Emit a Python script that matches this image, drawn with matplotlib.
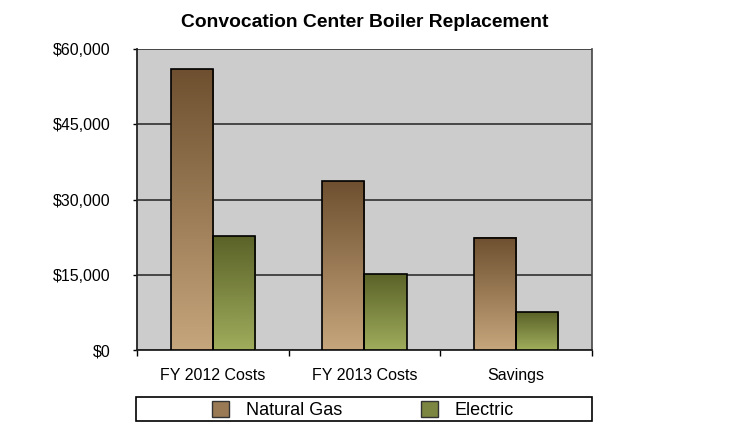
import numpy as np
import matplotlib
matplotlib.use('Agg')
from matplotlib import pyplot as plt
from matplotlib.colors import LinearSegmentedColormap
from matplotlib.patches import Patch, Rectangle

plt.rcParams['font.family'] = ['Liberation Sans', 'DejaVu Sans']

categories = ['FY 2012 Costs', 'FY 2013 Costs', 'Savings']
natural_gas = [56000, 33600, 22400]
electric = [22700, 15100, 7500]
series_names = ['Natural Gas', 'Electric']
y_ticks = [0, 15000, 30000, 45000, 60000]

gas_cmap = LinearSegmentedColormap.from_list('gas', ['#c6a67c', '#6e5030'])
elec_cmap = LinearSegmentedColormap.from_list('elec', ['#9fad5c', '#5b6228'])

fig = plt.figure(figsize=(7.42, 4.44), dpi=100)
ax = fig.add_axes([137 / 742, 1 - 350 / 444, 455 / 742, 301 / 444])
ax.set_facecolor('#cccccc')

x = np.arange(len(categories))
w = 0.277
bars_gas = ax.bar(x - w / 2, natural_gas, w, facecolor='none',
                  edgecolor='black', linewidth=1.2, zorder=4)
bars_elec = ax.bar(x + w / 2, electric, w, facecolor='none',
                   edgecolor='black', linewidth=1.2, zorder=4)

# vertical gradient fill inside each bar
grad = np.linspace(0, 1, 256).reshape(-1, 1)
for bars, cmap in ((bars_gas, gas_cmap), (bars_elec, elec_cmap)):
    for b in bars:
        x0, h, bw = b.get_x(), b.get_height(), b.get_width()
        ax.imshow(grad, cmap=cmap, origin='lower', aspect='auto',
                  extent=(x0, x0 + bw, 0, h), zorder=3)

ax.set_xlim(-0.5, 2.5)
ax.set_ylim(0, 60000)
ax.set_yticks(y_ticks)
ax.set_yticklabels(['${:,}'.format(v) for v in y_ticks], fontsize=11.5)
ax.yaxis.grid(True, color='#222222', linewidth=1.1)
ax.set_axisbelow(True)

ax.set_xticks(x)
ax.set_xticklabels(categories, fontsize=11.5)
ax.tick_params(axis='x', length=0, pad=13)
ax.set_xticks([-0.5, 0.5, 1.5, 2.5], minor=True)
ax.tick_params(axis='x', which='minor', length=4, width=1)
ax.tick_params(axis='y', length=3, width=1, direction='out', pad=16)

for s in ['left', 'bottom']:
    ax.spines[s].set_linewidth(1.3)
    ax.spines[s].set_color('#222222')
ax.spines['right'].set_color('#444444')
ax.spines['right'].set_linewidth(1.2)
ax.spines['top'].set_visible(False)

ax.set_title('Convocation Center Boiler Replacement', fontsize=13.9,
             fontweight='bold', pad=16)

# legend frame spans the plot width
fig.patches.append(Rectangle((136 / 742, 1 - 421 / 444), 456 / 742, 24 / 444,
                             transform=fig.transFigure, facecolor='white',
                             edgecolor='black', linewidth=1.2, zorder=0))
handles = [Patch(facecolor='#9a7a54', edgecolor='#333333'),
           Patch(facecolor='#7c8640', edgecolor='#333333')]
leg = fig.legend(handles, series_names, loc='center',
                 bbox_to_anchor=(363 / 742, 1 - 410 / 444), ncol=2,
                 fontsize=13, frameon=False, columnspacing=4.4,
                 handlelength=0.95, handleheight=0.95, handletextpad=0.9)

fig.savefig('out.png', dpi=100)
